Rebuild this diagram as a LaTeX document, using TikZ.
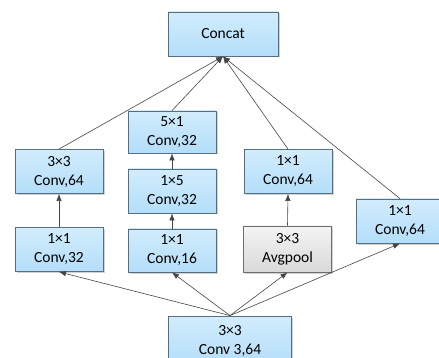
\documentclass[tikz,border=0pt]{standalone}
\usepackage{fontspec}
\setmainfont{Carlito}
\usetikzlibrary{arrows.meta,shadows}
\definecolor{boxtop}{HTML}{D2ECFC}
\definecolor{boxbot}{HTML}{B3DEFA}
\definecolor{boxline}{HTML}{566E80}
\definecolor{pooltop}{HTML}{F4F4F4}
\definecolor{poolbot}{HTML}{D9D9D9}
\definecolor{pooline}{HTML}{6E6E6E}
\definecolor{wire}{HTML}{454545}
\tikzset{
  blk/.style={draw=boxline, line width=0.8pt, top color=boxtop, bottom color=boxbot,
    minimum width=88pt, minimum height=44pt, align=center, inner sep=0pt,
    font=\fontsize{15.5}{19}\selectfont,
    drop shadow={shadow xshift=1.5pt, shadow yshift=-1.5pt, fill=black!35, opacity=0.5}},
  poolblk/.style={blk, draw=pooline, top color=pooltop, bottom color=poolbot},
  arr/.style={draw=wire, line width=0.6pt, -{Latex[length=7pt,width=5.5pt]}}
}
\begin{document}
\begin{tikzpicture}[x=1pt,y=-1pt]
\useasboundingbox (0,0) rectangle (439,358);
\node[blk, minimum width=110pt] (concat) at (223,34) {Concat};
\node[blk] (c33) at (59,171.5) {3×3\\Conv,64};
\node[blk] (c11a) at (59,249.5) {1×1\\Conv,32};
\node[blk, minimum height=42pt] (c51) at (172,132) {5×1\\Conv,32};
\node[blk] (c15) at (172,191) {1×5\\Conv,32};
\node[blk, minimum height=43pt] (c11b) at (172,250.5) {1×1\\Conv,16};
\node[blk] (c11c) at (288,171.5) {1×1\\Conv,64};
\node[poolblk, minimum height=46pt] (pool) at (287.5,249) {3×3\\Avgpool};
\node[blk] (c11d) at (400,221) {1×1\\Conv,64};
\node[blk, minimum width=123pt, minimum height=50pt] (bot) at (230,341) {3×3\\Conv 3,64};
% from the input
\draw[arr] (bot.north) -- (c11a.south);
\draw[arr] (bot.north) -- (c11b.south);
\draw[arr] (bot.north) -- (pool.south);
\draw[arr] (bot.north) -- (c11d.south);
% stacks
\draw[arr] (c11a.north) -- (c33.south);
\draw[arr] (c11b.north) -- (c15.south);
\draw[arr] (c15.north) -- (c51.south);
\draw[arr] (pool.north) -- (c11c.south);
% to concat
\draw[arr] (c33.north) -- (concat.south);
\draw[arr] (c51.north) -- (concat.south);
\draw[arr] (c11c.north) -- (concat.south);
\draw[arr] (c11d.north) -- (concat.south);
\end{tikzpicture}
\end{document}
